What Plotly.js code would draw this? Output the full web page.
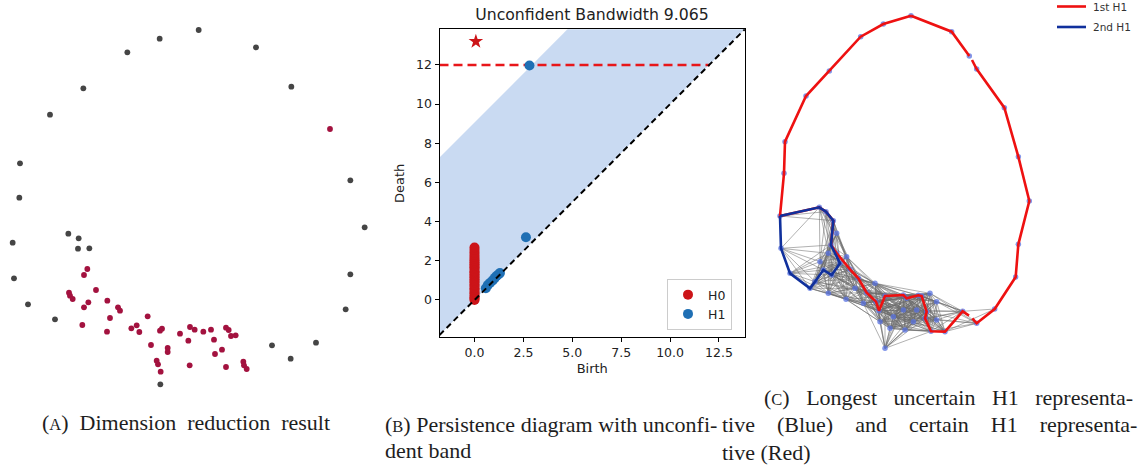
<!DOCTYPE html>
<html>
<head>
<meta charset="utf-8">
<script src="https://cdn.plot.ly/plotly-3.0.1.min.js"></script>
<style>
  html, body { margin: 0; padding: 0; background: #ffffff; }
  #fig { width: 1138px; height: 470px; }
</style>
</head>
<body>
<div id="fig"></div>
<script>
// ---------- (A) two-dimensional embedding ----------
const embedGrayX = [596, 479, 382, 768, 250, 874, 150, 60, 1051, 58, 1094, 205, 236, 38, 234, 268, 42, 1051, 84, 1037, 165, 948, 816, 872, 481];
const embedGrayY = [30, 56, 97, 82, 205, 200, 284, 430, 481, 533, 622, 641, 655, 668, 686, 685, 775, 763, 853, 868, 898, 968, 976, 1016, 1093];
const embedRedX = [990, 262, 252, 288, 207, 210, 218, 265, 322, 252, 354, 360, 330, 443, 247, 321, 394, 410, 418, 480, 486, 540, 570, 584, 565, 610, 633, 678, 686, 693, 707, 642, 453, 503, 503, 666, 645, 470, 474, 569, 482, 678, 730, 732, 740];
const embedRedY = [327, 747, 765, 810, 818, 827, 837, 847, 842, 862, 862, 872, 894, 889, 915, 935, 925, 916, 936, 932, 926, 941, 921, 929, 962, 935, 929, 923, 930, 948, 946, 959, 975, 984, 996, 989, 1002, 1022, 1033, 1036, 1055, 1041, 1025, 1036, 1047];

// ---------- (B) persistence diagram ----------
const bandwidth = 9.065;
const h0Birth = [0, 0, 0, 0, 0, 0, 0, 0, 0, 0, 0, 0, 0, 0, 0, 0, 0, 0, 0, 0, 0, 0, 0, 0, 0, 0, 0, 0, 0, 0];
const h0Death = [0.0, 0.06, 0.14, 0.21, 0.33, 0.41, 0.52, 0.6, 0.71, 0.78, 0.89, 0.97, 1.06, 1.15, 1.22, 1.31, 1.4, 1.47, 1.58, 1.66, 1.74, 1.83, 1.92, 2.0, 2.09, 2.2, 2.31, 2.42, 2.55, 2.68];
const h0InfBirth = [0.07];
const h0InfDeath = [13.2];
const h1Birth = [2.81, 2.63, 0.58, 0.68, 0.8, 0.93, 1.04, 1.14, 1.24, 1.3];
const h1Death = [11.97, 3.2, 0.6, 0.76, 0.88, 1.0, 1.13, 1.24, 1.31, 1.38];
const axisMin = -1.79, axisMax = 13.83;
const infinityLevel = 12.0, infinityLineEnd = 12.04;
const birthTicks = [0, 2.5, 5, 7.5, 10, 12.5];
const deathTicks = [0, 2, 4, 6, 8, 10, 12];

// ---------- (C) representative cycles on the neighbourhood graph ----------
const cycleNames = ['1st H1', '2nd H1'];
const cycle1X = [423, 545, 598, null, 606, 620, 703, 745, 778, 745, 737, 674, 620, 607, null, 597, 578, 525, 483, 465, 470, 455, 445, 410, 400, 345, 327, 318, 290, 265, 240, 200, 183, 190, 168, 148, 30, 42, 45, 108, 178, 272, 340, 423];
const cycle1Y = [47, 95, 168, null, 180, 207, 323, 470, 603, 733, 831, 927, 970, 955, null, 947, 934, 995, 994, 955, 935, 888, 886, 895, 885, 888, 932, 905, 878, 835, 808, 760, 735, 662, 635, 622, 648, 520, 425, 288, 213, 110, 72, 47];
const cycle2X = [30, 148, 168, 190, 183, 210, 185, 160, 135, 120, 60, 33, 30];
const cycle2Y = [648, 622, 635, 662, 735, 790, 825, 810, 845, 865, 820, 745, 648];
const clusterX = [30, 148, 168, 190, 183, 210, 185, 160, 135, 120, 60, 33,
  240, 265, 290, 318, 327, 345, 400, 410, 445, 455, 470, 465, 483, 525, 578, 620, 674,
  150, 175, 228, 200, 255, 280, 315, 370, 400, 440, 430, 360, 405, 500, 500, 345, 330, 230, 175, 480];
const clusterY = [648, 622, 635, 662, 735, 790, 825, 810, 845, 865, 820, 745,
  808, 835, 878, 905, 932, 888, 885, 895, 886, 888, 935, 955, 994, 995, 934, 970, 927,
  785, 880, 898, 700, 865, 910, 850, 950, 930, 930, 965, 985, 990, 905, 960, 1045, 965, 770, 760, 880];
const edgeScale = 170;

// graph edges: every pair of cluster nodes closer than the filtration scale
const edgeX = [], edgeY = [];
for (let i = 0; i < clusterX.length; i++) {
  for (let j = i + 1; j < clusterX.length; j++) {
    const d = Math.hypot(clusterX[i] - clusterX[j], clusterY[i] - clusterY[j]);
    if (d < edgeScale) {
      edgeX.push(clusterX[i], clusterX[j], null);
      edgeY.push(clusterY[i], clusterY[j], null);
    }
  }
}
// vertices: all points on the cycles plus the cluster
const seen = new Set();
const nodeX = [], nodeY = [];
function addNodes(xs, ys) {
  for (let k = 0; k < xs.length; k++) {
    if (xs[k] === null) continue;
    const key = xs[k] + ',' + ys[k];
    if (seen.has(key)) continue;
    seen.add(key);
    nodeX.push(xs[k]); nodeY.push(ys[k]);
  }
}
// the points next to the two breaks in cycle 1 are not vertices
const breakIdx = [3, 4, 13, 14, 15];
addNodes(cycle1X.filter((v, k) => !breakIdx.includes(k)), cycle1Y.filter((v, k) => !breakIdx.includes(k)));
addNodes(cycle2X, cycle2Y);
addNodes(clusterX, clusterY);

// ---------- page geometry (px) ----------
const W = 1138, H = 470;
const fx = px => px / W;
const fy = py => 1 - py / H;

const RED = '#cc1418';
const BLUE = '#1f6fb4';
const CYCLE_COLORS = ['#ee1111', '#10309c'];
const tickFont = { family: 'DejaVu Sans', size: 12.5, color: '#222222' };

const traces = [
  // (A)
  { type: 'scatter', mode: 'markers', x: embedGrayX, y: embedGrayY, xaxis: 'x', yaxis: 'y',
    marker: { color: '#454545', size: 5.8 }, showlegend: false, hoverinfo: 'skip' },
  { type: 'scatter', mode: 'markers', x: embedRedX, y: embedRedY, xaxis: 'x', yaxis: 'y',
    marker: { color: '#a3123f', size: 5.8 }, showlegend: false, hoverinfo: 'skip' },

  // (B) band between the diagonal and diagonal + bandwidth
  { type: 'scatter', mode: 'lines', xaxis: 'x2', yaxis: 'y2', showlegend: false, hoverinfo: 'skip',
    x: [axisMin, axisMax, axisMax, axisMax - bandwidth, axisMin, axisMin],
    y: [axisMin, axisMax, axisMax, axisMax, axisMin + bandwidth, axisMin],
    fill: 'toself', fillcolor: 'rgba(192,211,240,0.85)', line: { width: 0 } },
  { type: 'scatter', mode: 'lines', xaxis: 'x2', yaxis: 'y2', showlegend: false, hoverinfo: 'skip',
    x: [axisMin, infinityLineEnd], y: [infinityLevel, infinityLevel],
    line: { color: '#e8161a', width: 2.4, dash: '9px,5px' } },
  { type: 'scatter', mode: 'markers', xaxis: 'x2', yaxis: 'y2', name: 'H0', legend: 'legend',
    x: h0Birth, y: h0Death, marker: { color: RED, size: 10 }, hoverinfo: 'skip' },
  { type: 'scatter', mode: 'markers', xaxis: 'x2', yaxis: 'y2', name: 'H1', legend: 'legend',
    x: h1Birth, y: h1Death, marker: { color: BLUE, size: 10 }, hoverinfo: 'skip' },
  { type: 'scatter', mode: 'markers', xaxis: 'x2', yaxis: 'y2', showlegend: false, hoverinfo: 'skip',
    x: h0InfBirth, y: h0InfDeath, marker: { color: RED, size: 11, symbol: 'star' } },
  { type: 'scatter', mode: 'lines', xaxis: 'x2', yaxis: 'y2', showlegend: false, hoverinfo: 'skip',
    x: [axisMin, axisMax], y: [axisMin, axisMax],
    line: { color: '#000000', width: 2, dash: '6px,4px' } },

  // (C)
  { type: 'scatter', mode: 'lines', x: edgeX, y: edgeY, xaxis: 'x3', yaxis: 'y3', showlegend: false,
    hoverinfo: 'skip', line: { color: 'rgba(105,105,105,0.75)', width: 0.7 } },
  { type: 'scatter', mode: 'markers', x: nodeX, y: nodeY, xaxis: 'x3', yaxis: 'y3', showlegend: false,
    hoverinfo: 'skip', marker: { color: 'rgba(90,115,225,0.75)', size: 5.5 } },
  { type: 'scatter', mode: 'lines', x: cycle1X, y: cycle1Y, xaxis: 'x3', yaxis: 'y3', name: cycleNames[0],
    showlegend: false, connectgaps: false, hoverinfo: 'skip', line: { color: CYCLE_COLORS[0], width: 2.6 } },
  { type: 'scatter', mode: 'lines', x: cycle2X, y: cycle2Y, xaxis: 'x3', yaxis: 'y3', name: cycleNames[1],
    showlegend: false, hoverinfo: 'skip', line: { color: CYCLE_COLORS[1], width: 2.6 } }
];

const hidden = { visible: false, fixedrange: true };
const captionFont = { family: 'Liberation Serif', size: 22, color: '#1e1e1e' };
function caption(text, px, py) {
  return { text: text, xref: 'paper', yref: 'paper', x: fx(px), y: fy(py),
    xanchor: 'left', yanchor: 'middle', showarrow: false, font: captionFont };
}
const sc = l => '<span style="font-size:16.5px">' + l + '</span>';
const sp = n => '&nbsp;'.repeat(n);

// key for panel (C), pinned to the top-right corner of the page
const keyRows = [6.5, 27];
const keyShapes = keyRows.map((py, i) => ({
  type: 'line', xref: 'paper', yref: 'paper', x0: fx(1057), x1: fx(1086), y0: fy(py), y1: fy(py),
  line: { color: CYCLE_COLORS[i], width: 2.6 }
}));
const keyLabels = keyRows.map((py, i) => ({
  text: cycleNames[i], xref: 'paper', yref: 'paper', x: fx(1091), y: fy(py), xanchor: 'left', yanchor: 'middle',
  showarrow: false, font: { family: 'DejaVu Sans', size: 10.5, color: '#333' }
}));

const layout = {
  width: W, height: H,
  margin: { l: 0, r: 0, t: 0, b: 0 },
  paper_bgcolor: '#ffffff', plot_bgcolor: 'rgba(0,0,0,0)',
  font: { family: 'DejaVu Sans', color: '#222222' },
  title: { text: 'Unconfident Bandwidth 9.065', x: fx(592), y: fy(15), xanchor: 'center', yanchor: 'middle',
    xref: 'container', yref: 'container', font: { family: 'DejaVu Sans', size: 15.7, color: '#222222' } },
  xaxis: Object.assign({ domain: [0, fx(380)], range: [0, 1140], anchor: 'y' }, hidden),
  yaxis: Object.assign({ domain: [fy(400), fy(20)], range: [1140, 0], anchor: 'x' }, hidden),
  xaxis2: {
    anchor: 'y2',
    domain: [fx(439.5), fx(745)], range: [axisMin, axisMax], fixedrange: true,
    showline: true, linecolor: '#000', linewidth: 1, mirror: true, showgrid: false, zeroline: false,
    ticks: 'outside', ticklen: 4, tickcolor: '#000', tickvals: birthTicks, tickformat: '.1f', tickfont: tickFont,
    title: { text: 'Birth', font: { family: 'DejaVu Sans', size: 13, color: '#222' }, standoff: 4 }
  },
  yaxis2: {
    anchor: 'x2',
    domain: [fy(337.3), fy(29.3)], range: [-1.905, 13.82], fixedrange: true,
    showline: true, linecolor: '#000', linewidth: 1, mirror: true, showgrid: false, zeroline: false,
    ticks: 'outside', ticklen: 4, tickcolor: '#000', tickvals: deathTicks, tickfont: tickFont,
    title: { text: 'Death', font: { family: 'DejaVu Sans', size: 13, color: '#222' }, standoff: 8 }
  },
  xaxis3: Object.assign({ domain: [fx(770), 1], range: [0, 1104], anchor: 'y3' }, hidden),
  yaxis3: Object.assign({ domain: [fy(360), 1], range: [1080, 0], anchor: 'x3' }, hidden),
  legend: {
    x: fx(667), y: fy(279), xanchor: 'left', yanchor: 'top',
    bgcolor: 'rgba(255,255,255,0.9)', bordercolor: '#cccccc', borderwidth: 1,
    font: { family: 'DejaVu Sans', size: 12.5, color: '#222' }
  },
  shapes: keyShapes,
  annotations: [
    caption('(' + sc('A') + ')' + sp(2) + 'Dimension' + sp(2) + 'reduction' + sp(2) + 'result', 40, 422),
    caption('(' + sc('B') + ') Persistence diagram with unconfi-', 383, 424),
    caption('dent band', 383, 450),
    caption('(' + sc('C') + ')' + sp(3) + 'Longest' + sp(3) + 'uncertain' + sp(3) + 'H1' + sp(3) + 'representa-', 762, 397),
    caption('tive' + sp(4) + '(Blue)' + sp(4) + 'and' + sp(4) + 'certain' + sp(4) + 'H1' + sp(4) + 'representa-', 720, 424),
    caption('tive (Red)', 720, 452)
  ].concat(keyLabels)
};

Plotly.newPlot('fig', traces, layout, { staticPlot: true, displayModeBar: false });
</script>
</body>
</html>
